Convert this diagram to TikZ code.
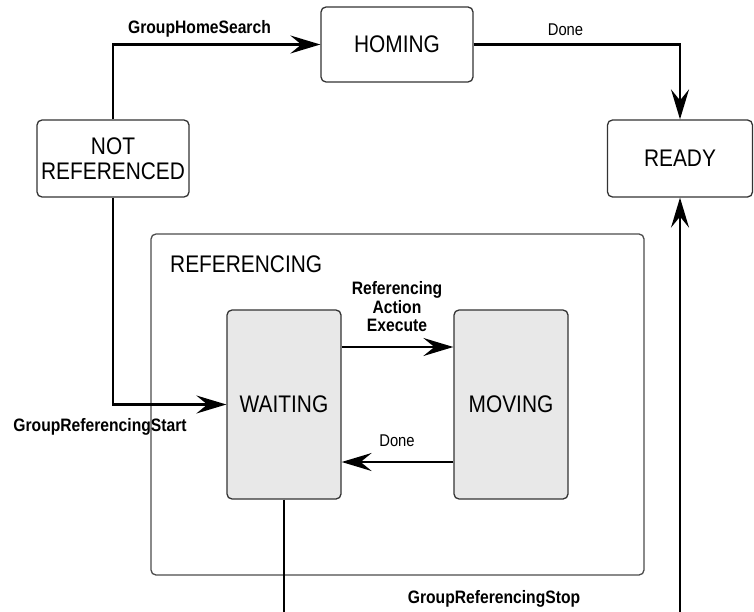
\documentclass[tikz,border=0pt]{standalone}
\usepackage{fontspec}
\setmainfont{Liberation Sans}[FakeStretch=0.87]
\usetikzlibrary{arrows.meta}
\begin{document}
\begin{tikzpicture}[x=1pt,y=-1pt,
  state/.style={draw=black!80, line width=1.3pt, rounded corners=5pt, align=center,
    font=\fontsize{24}{25}\selectfont, inner sep=0pt},
  sub/.style={state, fill=black!9, minimum width=114pt, minimum height=189pt},
  conn/.style={line width=2.3pt, -{Stealth[length=30pt,width=18pt,inset=11pt]}},
  plain/.style={line width=2.3pt},
  evt/.style={font=\bfseries\fontsize{18}{18.5}\selectfont, align=center, inner sep=0pt},
  evtr/.style={font=\fontsize{17}{18}\selectfont, inner sep=0pt}]
\useasboundingbox (0,0) rectangle (754,612);
% container
\draw[draw=black!70, line width=1.3pt, rounded corners=5pt] (151,234) rectangle (644,575);
\node[anchor=base west, font=\fontsize{24}{25}\selectfont, inner sep=0pt] (reflbl) at (170,272) {REFERENCING};
% states
\node[state, minimum width=152pt, minimum height=75pt] (homing) at (397,44.5) {HOMING};
\node[state, minimum width=152pt, minimum height=77pt] (notref) at (113,158.5) {NOT\\REFERENCED};
\node[state, minimum width=145pt, minimum height=77pt] (ready) at (680,158.5) {READY};
\node[sub] (waiting) at (284,404.5) {WAITING};
\node[sub] (moving) at (511,404.5) {MOVING};
% bottom free ends
\coordinate (bl) at (284,612);
\coordinate (br) at (680,612);
% connectors
\draw[conn] (notref.north) |- (homing.west);
\draw[conn] (homing.east) -| (ready.north);
\draw[conn] (notref.south) |- (waiting.west);
\draw[conn] ([yshift=57.5pt]waiting.east) -- ([yshift=57.5pt]moving.west);
\draw[conn] ([yshift=-57.5pt]moving.west) -- ([yshift=-57.5pt]waiting.east);
\draw[plain] (waiting.south) -- (bl);
\draw[conn] (br) -- (ready.south);
% labels
\node[evt] (l1) at (199.5,29) {GroupHomeSearch};
\node[evtr] (l2) at (565.5,29.5) {Done};
\node[evt] (l3) at (397,307) {Referencing\\Action\\Execute};
\node[evtr] (l4) at (397,440.5) {Done};
\node[evt] (l5) at (100,426.5) {GroupReferencingStart};
\node[evt] (l6) at (494,598.5) {GroupReferencingStop};
\end{tikzpicture}
\end{document}
